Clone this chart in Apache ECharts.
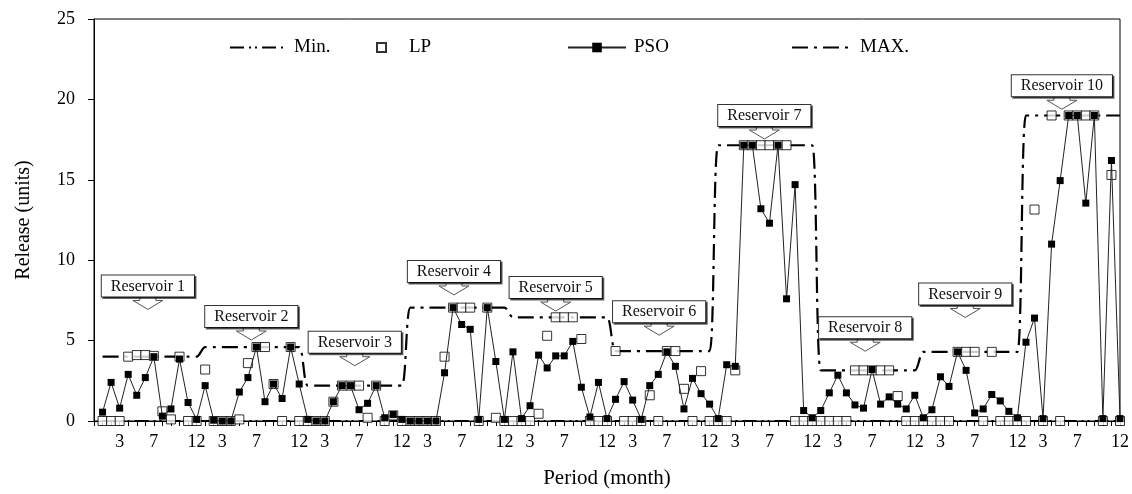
<!DOCTYPE html>
<html>
<head>
<meta charset="utf-8">
<script src="https://cdn.jsdelivr.net/npm/echarts@6/dist/echarts.min.js"></script>
<style>
  html, body { margin: 0; padding: 0; background: #fff; }
  #chart { width: 1132px; height: 494px; }
</style>
</head>
<body>
<div id="chart"></div>
<script>
// 10 reservoirs x 12 months, x runs 1..120
const reservoirs = ['Reservoir 1', 'Reservoir 2', 'Reservoir 3', 'Reservoir 4', 'Reservoir 5',
                    'Reservoir 6', 'Reservoir 7', 'Reservoir 8', 'Reservoir 9', 'Reservoir 10'];
const monthTicks = [3, 7, 12];

const minRelease = [0, 0, 0, 0, 0, 0, 0, 0, 0, 0];
const maxRelease = [4.0, 4.6, 2.2, 7.05, 6.45, 4.35, 17.15, 3.15, 4.3, 19.0];

const pso = [
    0.55, 2.4, 0.8, 2.9, 1.6, 2.7, 4.0, 0.3, 0.75, 3.85, 1.15, 0.1,       // R1
    2.2, 0.05, 0, 0, 1.8, 2.7, 4.6, 1.2, 2.3, 1.4, 4.6, 2.3,              // R2
    0.1, 0, 0, 1.2, 2.2, 2.2, 0.7, 1.1, 2.2, 0.2, 0.4, 0.1,               // R3
    0, 0, 0, 0, 3.0, 7.05, 6.0, 5.7, 0.1, 7.05, 3.7, 0.1,                 // R4
    4.3, 0.15, 0.95, 4.1, 3.3, 4.05, 4.05, 4.95, 2.1, 0.25, 2.4, 0.15,    // R5
    1.35, 2.45, 1.3, 0.1, 2.2, 2.9, 4.3, 3.4, 0.75, 2.65, 1.7, 1.05,      // R6
    0.15, 3.5, 3.4, 17.15, 17.15, 13.2, 12.3, 17.15, 7.6, 14.7, 0.65, 0.2, // R7
    0.65, 1.75, 2.85, 1.75, 1.0, 0.8, 3.2, 1.05, 1.5, 1.05, 0.75, 1.6,    // R8
    0.2, 0.7, 2.75, 2.15, 4.3, 3.15, 0.5, 0.75, 1.65, 1.25, 0.6, 0.2,     // R9
    4.9, 6.4, 0.15, 11.0, 14.95, 19.0, 19.0, 13.55, 19.0, 0.15, 16.2, 0.15 // R10
];

const lp = [
    0, 0, 0, 4.0, 4.1, 4.1, 4.05, 0.6, 0.1, 4.0, 0, 0,
    3.2, 0, 0, 0, 0.1, 3.6, 4.6, 4.6, 2.3, 0, 4.6, 0,
    0, 0, 0, 1.2, 2.2, 2.2, 2.2, 0.2, 2.2, 0, 0.35, 0,
    0, 0, 0, 0, 4.0, 7.05, 7.05, 7.05, 0, 7.05, 0.2, 0,
    0, 0, 0, 0.45, 5.3, 6.45, 6.45, 6.45, 5.1, 0, 0, 0,
    4.35, 0, 0, 0, 1.6, 0, 4.35, 4.35, 2.0, 0, 3.1, 0,
    0, 0, 3.15, 17.15, 17.15, 17.15, 17.15, 17.15, 17.15, 0, 0, 0,
    0, 0, 0, 0, 3.15, 3.15, 3.15, 3.15, 3.15, 1.55, 0, 0,
    0, 0, 0, 0, 4.3, 4.3, 4.3, 0, 4.3, 0, 0, 0,
    0, 13.15, 0, 19.0, 0, 19.0, 19.0, 19.0, 19.0, 0, 15.3, 0
];

// where each callout arrow points, in data units (month index, release)
const calloutX = [6.3, 18.4, 30.5, 42.1, 54.0, 66.1, 78.4, 90.2, 101.9, 113.2];
const calloutY = [7.0, 5.1, 3.5, 7.9, 6.9, 5.4, 17.6, 4.4, 6.5, 19.45];

const serif = '"Liberation Serif", "Times New Roman", serif';

function toPoints(values) {
    return values.map((v, i) => [i + 1, v]);
}
function perMonth(levels) {
    const out = [];
    levels.forEach(v => { for (let k = 0; k < 12; k++) out.push(v); });
    return out;
}

const chart = echarts.init(document.getElementById('chart'), null, { renderer: 'canvas' });

function legendAt(name, left, w, h, pad) {
    return {
        data: [name], left: left, top: 33, itemWidth: w, itemHeight: h, itemGap: 0,
        textStyle: { fontFamily: serif, fontSize: 19, color: '#000', padding: [0, 0, 0, pad] }
    };
}

const option = {
    animation: false,
    backgroundColor: '#fff',
    legend: [
        legendAt('Min.', 224, 56, 12, 3),
        legendAt('LP', 371, 9, 9, 18),
        legendAt('PSO', 562, 58, 12, 3),
        legendAt('MAX.', 786, 56, 12, 7)
    ],
    grid: { left: 94, right: 10, top: 19, bottom: 65, show: true, borderColor: '#000', borderWidth: 1 },
    xAxis: {
        type: 'value', min: 0, max: 120, interval: 1,
        name: 'Period (month)', nameLocation: 'middle', nameGap: 47,
        nameTextStyle: { fontFamily: serif, fontSize: 21, color: '#000' },
        axisLine: { lineStyle: { color: '#000', width: 1 } },
        axisTick: { length: 5, lineStyle: { color: '#000' } },
        axisLabel: {
            fontFamily: serif, fontSize: 18, color: '#000', margin: 12,
            showMinLabel: true, showMaxLabel: true,
            formatter: function (v) {
                if (v < 1) return '';
                const m = (v - 1) % 12 + 1;
                return monthTicks.indexOf(m) >= 0 ? String(m) : '';
            }
        },
        splitLine: { show: false }
    },
    yAxis: {
        type: 'value', min: 0, max: 25, interval: 5,
        name: 'Release (units)', nameLocation: 'middle', nameGap: 60,
        nameTextStyle: { fontFamily: serif, fontSize: 20, color: '#000' },
        axisLine: { show: true, lineStyle: { color: '#000', width: 1 } },
        axisTick: { show: true, length: 6, lineStyle: { color: '#000' } },
        axisLabel: { fontFamily: serif, fontSize: 18, color: '#000', margin: 19 },
        splitLine: { show: false }
    },
    series: [
        {
            name: 'MAX.', type: 'line', data: toPoints(perMonth(maxRelease)),
            symbol: 'none', smooth: 0.3,
            itemStyle: { color: '#000', opacity: 0 },
            lineStyle: { color: '#000', width: 2.2, type: [16, 6, 3, 6] },
            z: 2
        },
        {
            name: 'Min.', type: 'line', data: toPoints(perMonth(minRelease)),
            symbol: 'none',
            itemStyle: { color: '#000', opacity: 0 },
            lineStyle: { color: '#000', width: 2, type: [14, 5, 2, 4, 2, 5] },
            z: 2
        },
        {
            name: 'LP', type: 'scatter', data: toPoints(lp),
            symbol: 'rect', symbolSize: 9,
            itemStyle: { color: '#fff', borderColor: '#000', borderWidth: 1 },
            z: 3
        },
        {
            name: 'PSO', type: 'line', data: toPoints(pso),
            symbol: 'rect', symbolSize: 7, showAllSymbol: true,
            lineStyle: { color: '#222', width: 1 },
            itemStyle: { color: '#000' },
            z: 4
        }
    ]
};

chart.setOption(option);

function drawCallouts() {
    const g = [];
    reservoirs.forEach((name, i) => {
        const p = chart.convertToPixel({ gridIndex: 0 }, [calloutX[i], calloutY[i]]);
        const x = p[0], y = p[1];
        g.push({
            type: 'polygon', z: 20,
            shape: { points: [[x - 8, y - 13], [x - 8, y - 8], [x - 15, y - 8], [x, y + 1], [x + 15, y - 8], [x + 8, y - 8], [x + 8, y - 13]] },
            style: { fill: '#fff', stroke: '#555', lineWidth: 1 }
        });
        g.push({
            type: 'text', z: 21,
            style: {
                text: name, x: x, y: y - 12, align: 'center', verticalAlign: 'bottom',
                font: '16px ' + serif, fill: '#111',
                backgroundColor: '#fff', borderColor: '#333', borderWidth: 1,
                padding: [3, 9, 2, 9],
                shadowColor: 'rgba(0,0,0,0.6)', shadowOffsetX: 1.5, shadowOffsetY: 1.5, shadowBlur: 0
            }
        });
    });
    chart.setOption({ graphic: g });
}
drawCallouts();
</script>
</body>
</html>
